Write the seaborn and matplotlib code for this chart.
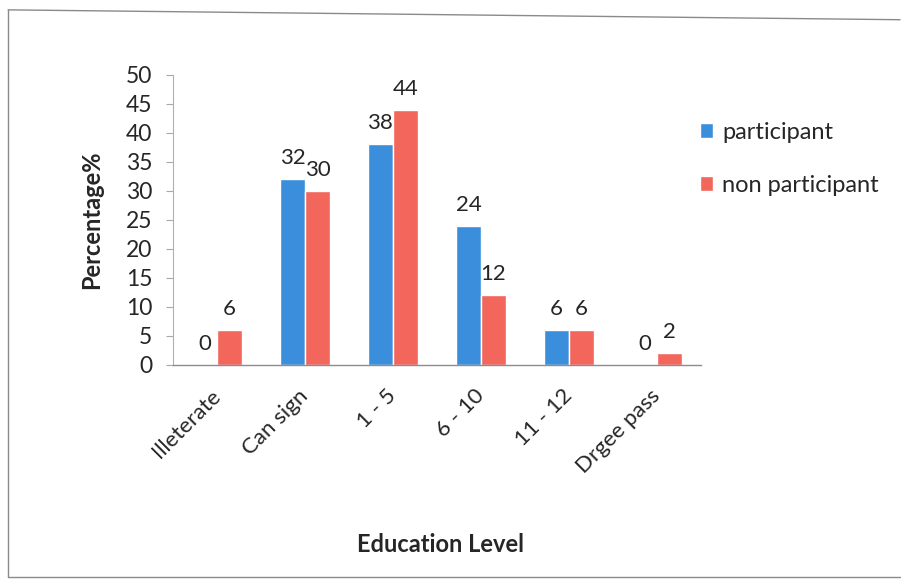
import matplotlib
matplotlib.use("Agg")
import matplotlib.pyplot as plt
from matplotlib.lines import Line2D
import seaborn as sns
import pandas as pd

categories = ["Illeterate", "Can sign", "1 - 5", "6 - 10", "11 - 12", "Drgee pass"]
participant = [0, 32, 38, 24, 6, 0]
non_participant = [6, 30, 44, 12, 6, 2]
series_names = ["participant", "non participant"]
y_ticks = [0, 5, 10, 15, 20, 25, 30, 35, 40, 45, 50]

df = pd.DataFrame({
    "level": categories * 2,
    "value": participant + non_participant,
    "group": [series_names[0]] * len(categories) + [series_names[1]] * len(categories),
})

sns.set_theme(style="white")
plt.rcParams["font.family"] = ["Lato", "DejaVu Sans"]

text_color = "#262626"
fig = plt.figure(figsize=(9.01, 5.80), dpi=100)
ax = fig.add_axes([0.192, 0.371, 0.586, 0.500])

palette = {"participant": "#3b8edc", "non participant": "#f2665c"}
sns.barplot(data=df, x="level", y="value", hue="group", order=categories,
            hue_order=series_names, palette=palette, width=0.57,
            saturation=1, ax=ax, legend=True)

# value labels above each bar
for container, vals in zip(ax.containers, [participant, non_participant]):
    for bar, v in zip(container, vals):
        ax.annotate(f"{v}", (bar.get_x() + bar.get_width() / 2, v),
                    xytext=(0, 8), textcoords="offset points",
                    ha="center", va="bottom", fontsize=16, color=text_color)

ax.set_ylim(0, 50)
ax.set_yticks(y_ticks)
ax.tick_params(axis="y", labelsize=16.5, labelcolor=text_color, color="#a8a8a8",
               length=5, width=0.8, direction="out", left=True, pad=10)
ax.tick_params(axis="x", labelsize=16, labelcolor=text_color, length=0, pad=20)
plt.setp(ax.get_xticklabels(), rotation=45, ha="right", va="center",
         rotation_mode="anchor")

for s in ["top", "right"]:
    ax.spines[s].set_visible(False)
ax.spines["left"].set_color("#b0b0b0")
ax.spines["left"].set_linewidth(0.8)
ax.spines["bottom"].set_color("#8c8c8c")
ax.spines["bottom"].set_linewidth(1.0)

ax.set_ylabel("Percentage%", fontsize=17, fontweight="bold", color=text_color,
              labelpad=16)
ax.set_xlabel("")
fig.text(0.489, 0.062, "Education Level", fontsize=17, fontweight="bold",
         color=text_color, ha="center", va="center")

handles, labels = ax.get_legend_handles_labels()
ax.legend(handles, labels, loc="upper left", bbox_to_anchor=(0.98, 0.87),
          frameon=False, fontsize=17, handlelength=0.55, handleheight=0.55,
          handletextpad=0.4, labelspacing=1.35, borderaxespad=0,
          labelcolor=text_color)

# outer chart frame
frame_kw = dict(transform=fig.transFigure, color="#8a8a8a", linewidth=1.0)
fig.lines.append(Line2D([0.009, 0.999], [0.983, 0.966], **frame_kw))
fig.lines.append(Line2D([0.009, 0.009], [0.983, 0.006], **frame_kw))
fig.lines.append(Line2D([0.009, 0.999], [0.006, 0.006], **frame_kw))

fig.savefig("out.png", dpi=100)
